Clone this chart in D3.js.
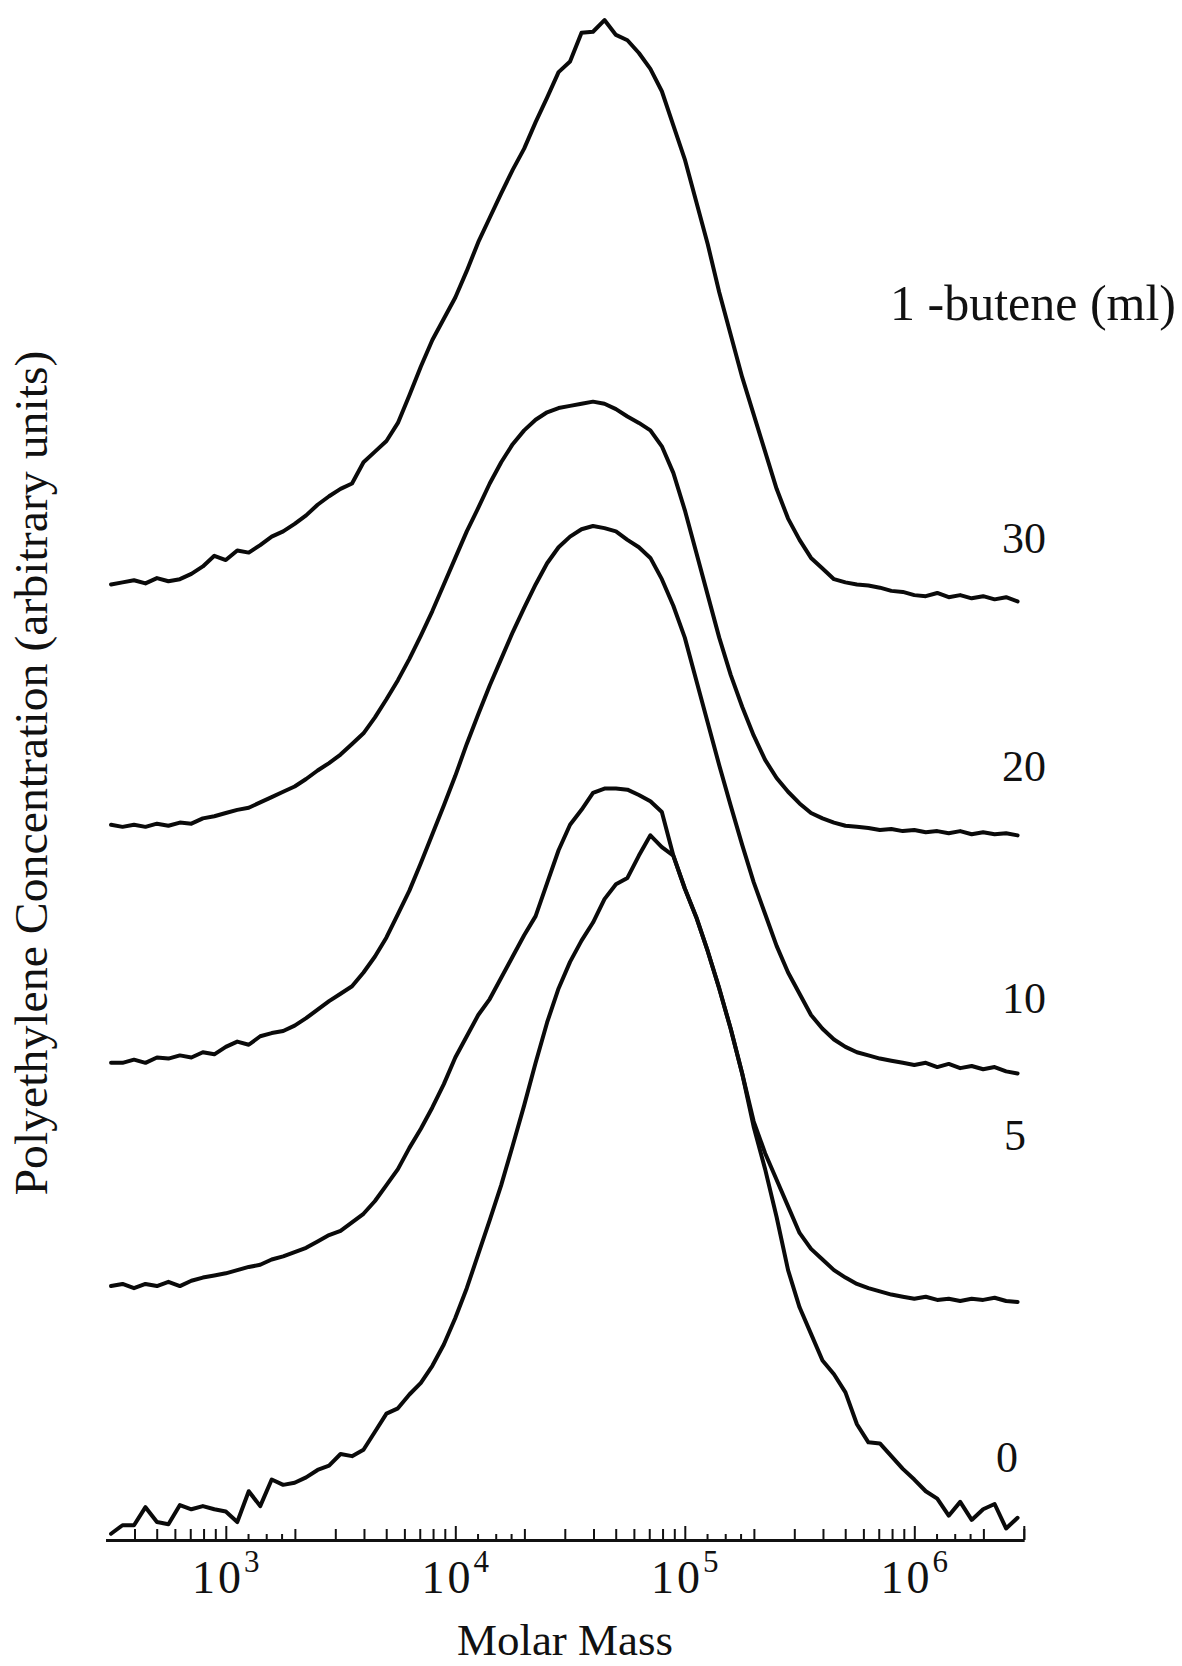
<!DOCTYPE html>
<html>
<head>
<meta charset="utf-8">
<script src="https://cdn.jsdelivr.net/npm/d3@7"></script>
<style>
  body { margin: 0; background: #fff; }
  svg { display: block; background: #fff; }
  text { font-family: "Liberation Serif", "Times New Roman", serif; fill: #111; }
</style>
</head>
<body>
<svg id="svg" width="1182" height="1666"></svg>
<script>
// log10 of the molar mass at each sample point
var logMass = [
  2.50, 2.55, 2.60, 2.65, 2.70, 2.75, 2.80, 2.85, 2.90, 2.95,
  3.00, 3.05, 3.10, 3.15, 3.20, 3.25, 3.30, 3.35, 3.40, 3.45,
  3.50, 3.55, 3.60, 3.65, 3.70, 3.75, 3.80, 3.85, 3.90, 3.95,
  4.00, 4.05, 4.10, 4.15, 4.20, 4.25, 4.30, 4.35, 4.40, 4.45,
  4.50, 4.55, 4.60, 4.65, 4.70, 4.75, 4.80, 4.85, 4.90, 4.95,
  5.00, 5.05, 5.10, 5.15, 5.20, 5.25, 5.30, 5.35, 5.40, 5.45,
  5.50, 5.55, 5.60, 5.65, 5.70, 5.75, 5.80, 5.85, 5.90, 5.95,
  6.00, 6.05, 6.10, 6.15, 6.20, 6.25, 6.30, 6.35, 6.40, 6.45
];

// concentration traces (arbitrary units, already stacked with their offsets)
var butene30 = [
  89.7, 89.9, 90.1, 89.8, 90.3, 90.0, 90.2, 90.7, 91.4, 92.4,
  92.0, 92.9, 92.7, 93.4, 94.2, 94.7, 95.4, 96.2, 97.2, 98.0,
  98.7, 99.2, 101.2, 102.2, 103.2, 104.9, 107.5, 110.2, 112.7, 114.7,
  116.7, 119.2, 121.9, 124.2, 126.5, 128.7, 130.7, 133.2, 135.5, 137.9,
  138.9, 141.6, 141.7, 142.8, 141.4, 140.9, 139.7, 138.2, 136.1, 132.9,
  129.7, 125.7, 121.7, 117.2, 113.2, 109.2, 105.7, 102.2, 98.7, 95.9,
  93.9, 92.2, 91.2, 90.2, 89.9, 89.7, 89.6, 89.4, 89.1, 89.0,
  88.7, 88.6, 88.9, 88.5, 88.7, 88.4, 88.6, 88.3, 88.5, 88.1
];
var butene20 = [
  67.1, 66.9, 67.1, 66.9, 67.2, 67.0, 67.3, 67.2, 67.7, 67.9,
  68.2, 68.5, 68.7, 69.2, 69.7, 70.2, 70.7, 71.4, 72.2, 72.9,
  73.7, 74.7, 75.7, 77.2, 78.9, 80.7, 82.7, 84.9, 87.2, 89.7,
  92.2, 94.7, 96.9, 99.2, 101.2, 102.9, 104.2, 105.2, 105.9, 106.3,
  106.5, 106.7, 106.9, 106.7, 106.2, 105.5, 104.9, 104.2, 102.7, 100.2,
  96.7, 92.7, 88.7, 84.7, 81.2, 78.2, 75.5, 73.2, 71.5, 70.2,
  69.1, 68.2, 67.7, 67.3, 67.0, 66.9, 66.8, 66.6, 66.7, 66.5,
  66.6, 66.4, 66.5, 66.3, 66.5, 66.2, 66.4, 66.2, 66.3, 66.1
];
var butene10 = [
  44.7, 44.7, 45.0, 44.7, 45.2, 45.1, 45.4, 45.2, 45.7, 45.5,
  46.2, 46.7, 46.4, 47.2, 47.5, 47.7, 48.2, 48.9, 49.7, 50.5,
  51.2, 51.9, 53.2, 54.7, 56.5, 58.7, 60.9, 63.5, 66.2, 68.9,
  71.7, 74.7, 77.5, 80.2, 82.7, 85.2, 87.5, 89.7, 91.7, 93.2,
  94.2, 94.9, 95.2, 95.0, 94.7, 93.9, 93.2, 92.2, 90.2, 87.7,
  84.7, 80.7, 76.7, 72.7, 68.9, 65.2, 61.7, 58.7, 55.7, 53.2,
  51.2, 49.2, 47.9, 46.9, 46.2, 45.7, 45.4, 45.1, 44.9, 44.7,
  44.5, 44.7, 44.3, 44.6, 44.2, 44.4, 44.1, 44.3, 43.9, 43.7
];
var butene5 = [
  23.7, 23.9, 23.5, 23.9, 23.7, 24.1, 23.7, 24.2, 24.5, 24.7,
  24.9, 25.2, 25.5, 25.7, 26.2, 26.5, 26.9, 27.3, 27.9, 28.5,
  28.9, 29.7, 30.5, 31.7, 33.2, 34.7, 36.7, 38.5, 40.5, 42.7,
  45.2, 47.2, 49.2, 50.7, 52.7, 54.7, 56.7, 58.5, 61.6, 64.7,
  67.1, 68.5, 70.1, 70.5, 70.5, 70.4, 69.9, 69.3, 68.3, 64.2,
  61.1, 58.4, 55.2, 51.7, 47.9, 43.7, 39.2, 36.2, 33.7, 31.2,
  28.7, 27.2, 26.2, 25.2, 24.5, 23.9, 23.5, 23.2, 22.9, 22.7,
  22.5, 22.7, 22.4, 22.5, 22.3, 22.5, 22.4, 22.6, 22.3, 22.2
];
var butene0 = [
  0.4, 1.2, 1.2, 2.9, 1.5, 1.3, 3.1, 2.7, 3.0, 2.7,
  2.5, 1.5, 4.4, 3.0, 5.5, 5.0, 5.2, 5.7, 6.4, 6.8,
  7.9, 7.7, 8.3, 10.0, 11.7, 12.2, 13.5, 14.6, 16.2, 18.2,
  20.7, 23.5, 26.7, 29.9, 33.2, 36.9, 40.7, 44.7, 48.5, 51.7,
  54.2, 56.2, 57.9, 60.1, 61.5, 62.1, 64.2, 66.1, 65.0, 64.2,
  61.1, 58.4, 55.2, 51.7, 47.9, 43.7, 38.7, 34.7, 30.2, 25.2,
  21.7, 19.2, 16.7, 15.4, 13.7, 10.7, 9.0, 8.9, 7.7, 6.5,
  5.5, 4.4, 3.7, 2.1, 3.4, 1.7, 2.7, 3.2, 0.9, 1.9
];

var seriesLabels = ["30", "20", "10", "5", "0"];
var seriesValues = [butene30, butene20, butene10, butene5, butene0];

// axis ticks
var decadeExponents = [3, 4, 5, 6];
var minorSteps = [2, 3, 4, 5, 6, 7, 8, 9];
var subSteps = [1.25, 1.5, 1.75];
var massDomain = [300, 3e6];

var svg = d3.select("#svg");
var axisY = 1540;

var x = d3.scaleLog()
  .domain(massDomain)
  .range([105.8, 1023.8]);

var y = d3.scaleLinear()
  .domain([0, 150])
  .range([1538, 1538 - 150 * 10.63]);

// tick values
var decadeVals = decadeExponents.map(e => Math.pow(10, e));
var minorVals = [];
[100, 1e3, 1e4, 1e5, 1e6].forEach(d => {
  minorSteps.forEach(s => {
    var v = d * s;
    if (v > 350 && v < 3.01e6 && decadeVals.indexOf(v) < 0) minorVals.push(v);
  });
});
var subVals = [];
decadeVals.forEach(d => subSteps.forEach(s => subVals.push(d * s)));

// traces
var line = d3.line()
  .x((d, i) => x(Math.pow(10, logMass[i])))
  .y(d => y(d));

svg.append("g")
  .selectAll("path")
  .data(seriesValues)
  .enter().append("path")
  .attr("d", d => line(d))
  .attr("fill", "none")
  .attr("stroke", "#0a0a0a")
  .attr("stroke-width", 4)
  .attr("stroke-linejoin", "round")
  .attr("stroke-linecap", "round");

// x axis: base line with inward ticks
var gAxis = svg.append("g").attr("transform", "translate(0," + axisY + ")");

gAxis.append("g")
  .call(d3.axisTop(x).tickValues(subVals).tickSize(6).tickSizeOuter(0).tickFormat(""));
gAxis.append("g")
  .call(d3.axisTop(x).tickValues(minorVals).tickSize(11).tickSizeOuter(0).tickFormat(""));
gAxis.append("g")
  .call(d3.axisTop(x).tickValues(decadeVals.concat([3e6])).tickSize(14).tickSizeOuter(0).tickFormat(""));

gAxis.selectAll(".domain").attr("stroke", "#111").attr("stroke-width", 3);
gAxis.selectAll(".tick line").attr("stroke", "#111").attr("stroke-width", 2);

// decade labels 10^n
var labels = svg.append("g");
decadeExponents.forEach(e => {
  var t = labels.append("text")
    .attr("x", x(Math.pow(10, e)))
    .attr("y", 1593)
    .attr("text-anchor", "middle")
    .attr("font-size", 46);
  t.append("tspan").attr("letter-spacing", 3).text("10");
  t.append("tspan").attr("dy", -21).attr("font-size", 31).text(e);
});

svg.append("text")
  .attr("x", 565)
  .attr("y", 1655)
  .attr("text-anchor", "middle")
  .attr("font-size", 45)
  .text("Molar Mass");

svg.append("text")
  .attr("transform", "translate(47,773) rotate(-90)")
  .attr("text-anchor", "middle")
  .attr("font-size", 46)
  .attr("textLength", 845)
  .attr("lengthAdjust", "spacingAndGlyphs")
  .text("Polyethylene Concentration (arbitrary units)");

svg.append("text")
  .attr("x", 1176)
  .attr("y", 320)
  .attr("text-anchor", "end")
  .attr("font-size", 50)
  .text("1 -butene (ml)");

// series labels at right, placed just above each tail
var labelX = [1002, 1002, 1002, 1004, 996];
var labelBase = [553, 781, 1013, 1150, 1472];
svg.append("g")
  .selectAll("text")
  .data(seriesLabels)
  .enter().append("text")
  .attr("x", (d, i) => labelX[i])
  .attr("y", (d, i) => labelBase[i])
  .attr("font-size", 44)
  .text(d => d);
</script>
</body>
</html>
